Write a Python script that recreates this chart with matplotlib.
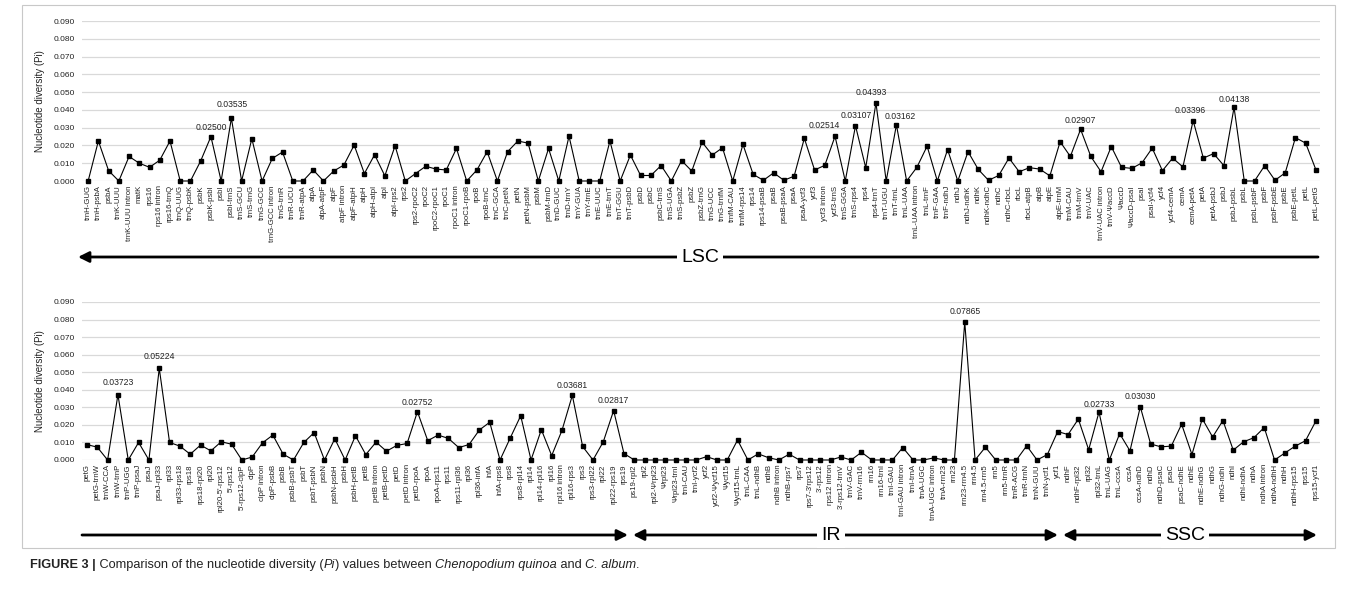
import matplotlib
matplotlib.use("Agg")
import matplotlib.pyplot as plt
import numpy as np
from matplotlib.patches import Rectangle
from matplotlib.ticker import FormatStrFormatter

plt.rcParams['font.family'] = ['Liberation Sans', 'DejaVu Sans']

# ---------------- data ----------------
top_labels = [
    "trnH-GUG", "trnH-psbA", "psbA", "trnK-UUU", "trnK-UUU intron", "matK", "rps16", "rps16 intron",
    "rps16-trnQ", "trnQ-UUG", "trnQ-psbK", "psbK", "psbK-psbI", "psbI", "psbI-trnS", "trnS-GCU",
    "trnS-trnG", "trnG-GCC", "trnG-GCC intron", "trnG-trnR", "trnR-UCU", "trnR-atpA", "atpA",
    "atpA-atpF", "atpF", "atpF intron", "atpF-atpH", "atpH", "atpH-atpI", "atpI", "atpI-rps2", "rps2",
    "rps2-rpoC2", "rpoC2", "rpoC2-rpoC1", "rpoC1", "rpoC1 intron", "rpoC1-rpoB", "rpoB", "rpoB-trnC",
    "trnC-GCA", "trnC-petN", "petN", "petN-psbM", "psbM", "psbM-trnD", "trnD-GUC", "trnD-trnY",
    "trnY-GUA", "trnY-trnE", "trnE-UUC", "trnE-trnT", "trnT-GGU", "trnT-psbD", "psbD", "psbC",
    "psbC-trnS", "trnS-UGA", "trnS-psbZ", "psbZ", "psbZ-trnG", "trnG-UCC", "trnG-trnfM", "trnfM-CAU",
    "trnfM-rps14", "rps14", "rps14-psaB", "psaB", "psaB-psaA", "psaA", "psaA-ycf3", "ycf3",
    "ycf3 intron", "ycf3-trnS", "trnS-GGA", "trnS-rps4", "rps4", "rps4-trnT", "trnT-UGU", "trnT-trnL",
    "trnL-UAA", "trnL-UAA intron", "trnL-trnF", "trnF-GAA", "trnF-ndhJ", "ndhJ", "ndhJ-ndhK", "ndhK",
    "ndhK-ndhC", "ndhC", "ndhC-rbcL", "rbcL", "rbcL-atpB", "atpB", "atpE", "atpE-trnM", "trnM-CAU",
    "trnM-trnV", "trnV-UAC", "trnV-UAC intron", "trnV-\u03A8accD", "\u03A8accD", "\u03A8accD-psaI",
    "psaI", "psaI-ycf4", "ycf4", "ycf4-cemA", "cemA", "cemA-petA", "petA", "petA-psbJ", "psbJ",
    "psbJ-psbL", "psbL", "psbL-psbF", "psbF", "psbF-psbE", "psbE", "psbE-petL", "petL", "petL-petG",
]
top_values = [
    0, 0.0225, 0.0058, 0, 0.0138, 0.0100, 0.0077, 0.0117, 0.0225, 0,
    0, 0.0113, 0.02500, 0, 0.03535, 0, 0.0238, 0, 0.0127, 0.0163,
    0, 0, 0.0062, 0, 0.0056, 0.0090, 0.0202, 0.0042, 0.0148, 0.0029,
    0.0198, 0, 0.0042, 0.0083, 0.0067, 0.0062, 0.0183, 0, 0.0062, 0.0165,
    0, 0.0165, 0.0225, 0.0213, 0, 0.0183, 0, 0.0252, 0, 0,
    0, 0.0225, 0, 0.0146, 0.0031, 0.0031, 0.0087, 0, 0.0115, 0.0056,
    0.0219, 0.0146, 0.0187, 0, 0.0206, 0.0037, 0.0004, 0.0046, 0.0004, 0.0027,
    0.0240, 0.0062, 0.0088, 0.02514, 0, 0.03107, 0.0075, 0.04393, 0, 0.03162,
    0, 0.0077, 0.0196, 0, 0.0177, 0, 0.0165, 0.0065, 0.0004, 0.0031,
    0.0129, 0.0052, 0.0075, 0.0067, 0.0029, 0.0221, 0.0138, 0.02907, 0.0138, 0.0052,
    0.0194, 0.0077, 0.0071, 0.0102, 0.0185, 0.0058, 0.0129, 0.0079, 0.03396, 0.0129,
    0.0154, 0.0087, 0.04138, 0, 0, 0.0087, 0.0004, 0.0046, 0.0244, 0.0213, 0.0063,
]
top_marked = ["psbK-psbI", "psbI-trnS", "ycf3-trnS", "trnS-rps4", "rps4-trnT", "trnT-trnL",
              "trnM-trnV", "cemA-petA", "psbJ-psbL"]

bottom_labels = [
    "petG", "petG-trnW", "trnW-CCA", "trnW-trnP", "trnP-UGG", "trnP-psaJ", "psaJ", "psaJ-rpl33",
    "rpl33", "rpl33-rps18", "rps18", "rps18-rpl20", "rpl20", "rpl20-5'-rps12", "5'-rps12",
    "5'-rps12-clpP", "clpP", "clpP intron", "clpP-psbB", "psbB", "psbB-psbT", "psbT", "psbT-psbN",
    "psbN", "psbN-psbH", "psbH", "psbH-petB", "petB", "petB intron", "petB-petD", "petD",
    "petD intron", "petD-rpoA", "rpoA", "rpoA-rps11", "rps11", "rps11-rpl36", "rpl36", "rpl36-infA",
    "infA", "infA-rps8", "rps8", "rps8-rpl14", "rpl14", "rpl14-rpl16", "rpl16", "rpl16 intron",
    "rpl16-rps3", "rps3", "rps3-rpl22", "rpl22", "rpl22-rps19", "rps19", "ps19-rpl2", "rpl2",
    "rpl2-\u03A8rpl23", "\u03A8rpl23", "\u03A8rpl23-trnI", "trnI-CAU", "trnI-ycf2", "ycf2",
    "ycf2-\u03A8ycf15", "\u03A8ycf15", "\u03A8ycf15-trnL", "trnL-CAA", "trnL-ndhB", "ndhB",
    "ndhB intron", "ndhB-rps7", "rps7", "rps7-3'rps12", "3'-rps12", "rps12 intron", "3'-rps12-trnV",
    "trnV-GAC", "trnV-rrn16", "rrn16", "rrn16-trnI", "trnI-GAU", "trnI-GAU intron", "trnI-trnA",
    "trnA-UGC", "trnA-UGC intron", "trnA-rrn23", "rrn23", "rrn23-rrn4.5", "rrn4.5", "rrn4.5-rrn5",
    "rrn5", "rrn5-trnR", "trnR-ACG", "trnR-trnN", "trnN-GUU", "trnN-ycf1", "ycf1", "ndhF",
    "ndhF-rpl32", "rpl32", "rpl32-trnL", "trnL-UAG", "trnL-ccsA", "ccsA", "ccsA-ndhD", "ndhD",
    "ndhD-psaC", "psaC", "psaC-ndhE", "ndhE", "ndhE-ndhG", "ndhG", "ndhG-ndhI", "ndhI", "ndhI-ndhA",
    "ndhA", "ndhA intron", "ndhA-ndhH", "ndhH", "ndhH-rps15", "rps15", "rps15-ycf1",
]
bottom_values = [
    0.0088, 0.0073, 0, 0.03723, 0, 0.0100, 0, 0.05224, 0.0100, 0.0079,
    0.0033, 0.0085, 0.0052, 0.0104, 0.0090, 0, 0.0017, 0.0098, 0.0142, 0.0033,
    0, 0.0100, 0.0156, 0, 0.0121, 0, 0.0138, 0.0031, 0.0102, 0.0050,
    0.0083, 0.0094, 0.02752, 0.0110, 0.0142, 0.0123, 0.0071, 0.0088, 0.0171, 0.0215,
    0, 0.0127, 0.0252, 0, 0.0173, 0.0025, 0.0169, 0.03681, 0.0077, 0,
    0.0104, 0.02817, 0.0037, 0, 0, 0, 0, 0, 0, 0,
    0.0019, 0, 0, 0.0114, 0, 0.0035, 0.0013, 0, 0.0033, 0,
    0, 0, 0, 0.0017, 0, 0.0044, 0, 0, 0, 0.0071,
    0, 0, 0.0012, 0, 0, 0.07865, 0, 0.0073, 0, 0,
    0, 0.0081, 0, 0.0031, 0.0162, 0.0145, 0.0233, 0.0058, 0.02733, 0,
    0.0150, 0.0052, 0.03030, 0.0091, 0.0075, 0.0079, 0.0204, 0.0031, 0.0235, 0.0131,
    0.0225, 0.0056, 0.0104, 0.0127, 0.0185, 0, 0.0040, 0.0079, 0.0110, 0.0222,
]
bottom_marked = ["trnW-trnP", "psaJ-rpl33", "petD-rpoA", "rpl16-rps3", "rpl22-rps19",
                 "rrn23-rrn4.5", "rpl32-trnL", "ccsA-ndhD"]

regions = ["LSC", "IR", "SSC"]
caption_parts = [("FIGURE 3 |", "bold", "normal"),
                 (" Comparison of the nucleotide diversity (", "normal", "normal"),
                 ("Pi", "normal", "italic"),
                 (") values between ", "normal", "normal"),
                 ("Chenopodium quinoa", "normal", "italic"),
                 (" and ", "normal", "normal"),
                 ("C. album", "normal", "italic"),
                 (".", "normal", "normal")]

# label offsets (pixels) for annotated peaks
top_offsets = {"psbK-psbI": (0, 9), "psbI-trnS": (1, 14), "ycf3-trnS": (-11, 11),
               "trnS-rps4": (1, 10), "rps4-trnT": (-5, 10), "trnT-trnL": (4, 8),
               "trnM-trnV": (0, 9), "cemA-petA": (-3, 10), "psbJ-psbL": (0, 8)}
bottom_offsets = {"trnW-trnP": (0, 12), "psaJ-rpl33": (0, 12), "petD-rpoA": (0, 9),
                  "rpl16-rps3": (0, 10), "rpl22-rps19": (0, 10), "rrn23-rrn4.5": (0, 10),
                  "rpl32-trnL": (0, 8), "ccsA-ndhD": (0, 10)}

# ---------------- figure ----------------
W, H = 1357, 591
fig = plt.figure(figsize=(W / 100, H / 100), dpi=100)
fig.patch.set_facecolor("white")


def fy(y):
    return 1 - y / H


def panel(rect, labels, values, marked, offsets, xlim):
    ax = fig.add_axes(rect)
    x = np.arange(len(labels))
    ax.set_axisbelow(True)
    ax.set_yticks(np.arange(0, 0.0901, 0.01))
    ax.yaxis.set_major_formatter(FormatStrFormatter("%.3f"))
    ax.set_ylim(0, 0.09)
    ax.set_xlim(*xlim)
    ax.yaxis.grid(True, color="#d9d9d9", lw=0.9)
    for s in ax.spines.values():
        s.set_visible(False)
    ax.plot(x, values, color="black", lw=0.8, marker="s", ms=2.8,
            mfc="black", mec="black", clip_on=False, zorder=3)
    ax.set_xticks(x)
    ax.set_xticklabels(labels, rotation=90, fontsize=5.6, color="#222222")
    ax.tick_params(axis="x", length=0, pad=3)
    ax.tick_params(axis="y", length=0, pad=5, labelsize=6, labelcolor="#222222")
    ax.set_ylabel("Nucleotide diversity (Pi)", fontsize=7, color="#222222", labelpad=6)
    for name in marked:
        i = labels.index(name)
        v = values[i]
        dx, dy = offsets[name]
        ax.annotate(f"{v:.5f}", (i, v), xytext=(dx, dy), textcoords="offset pixels",
                    ha="center", va="center", fontsize=6.2, color="#222222", zorder=4)
    return ax


ax_top = panel([82 / W, fy(181), (1320 - 82) / W, 160 / H], top_labels, top_values,
               top_marked, top_offsets, (-0.6, 120.4))
ax_bot = panel([82 / W, fy(460), (1320 - 82) / W, 158 / H], bottom_labels, bottom_values,
               bottom_marked, bottom_offsets, (-0.48, 119.4))

# overlay in pixel coordinates
ov = fig.add_axes([0, 0, 1, 1], zorder=10)
ov.set_xlim(0, W)
ov.set_ylim(H, 0)
ov.axis("off")
ov.patch.set_alpha(0)

ov.add_patch(Rectangle((22, 5), 1335 - 22, 543, fill=False, ec="#c8c8c8", lw=0.8))

ap = dict(lw=2.0, color="black", mutation_scale=16, shrinkA=0, shrinkB=0)
# top LSC
ov.annotate("", xy=(78, 257), xytext=(1318, 257), arrowprops=dict(arrowstyle="-|>", **ap))
ov.text(700, 257, regions[0], ha="center", va="center", fontsize=14,
        bbox=dict(fc="white", ec="none", pad=3))
# bottom
yb = 535
ov.annotate("", xy=(628, yb), xytext=(82, yb), arrowprops=dict(arrowstyle="-|>", **ap))
ov.annotate("", xy=(633, yb), xytext=(1058, yb), arrowprops=dict(arrowstyle="<|-|>", **ap))
ov.annotate("", xy=(1063, yb), xytext=(1317, yb), arrowprops=dict(arrowstyle="<|-|>", **ap))
ov.text(831, yb, regions[1], ha="center", va="center", fontsize=14,
        bbox=dict(fc="white", ec="none", pad=3))
ov.text(1185, yb, regions[2], ha="center", va="center", fontsize=14,
        bbox=dict(fc="white", ec="none", pad=3))

# caption
fig.canvas.draw()
renderer = fig.canvas.get_renderer()
xpos = 30
for txt, weight, style in caption_parts:
    t = ov.text(xpos, 565, txt, ha="left", va="center", fontsize=9.2, fontweight=weight,
                fontstyle=style, color="#222222")
    bb = t.get_window_extent(renderer)
    xpos += bb.width

fig.savefig("out.png", dpi=100)
